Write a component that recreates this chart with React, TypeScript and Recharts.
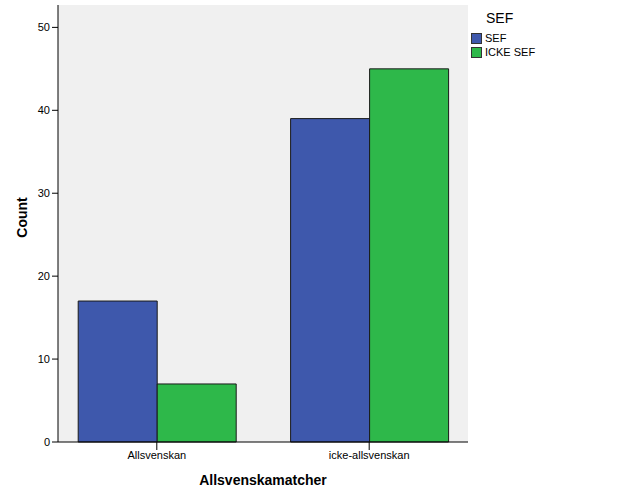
import React from 'react';
import { BarChart, Bar, XAxis, YAxis, CartesianGrid, Label } from 'recharts';

const categories = ['Allsvenskan', 'icke-allsvenskan'];
const sefValues = [17, 39];
const ickeSefValues = [7, 45];
const yTicks = [0, 10, 20, 30, 40, 50];
const seriesNames = ['SEF', 'ICKE SEF'];
const seriesColors = ['#3E58AC', '#2EB84A'];
const legendTitle = 'SEF';
const xTitle = 'Allsvenskamatcher';
const yTitle = 'Count';

const data = categories.map((c, i) => ({ cat: c, sef: sefValues[i], icke: ickeSefValues[i] }));

const FONT = '"Liberation Sans", Arial, sans-serif';

export default function App() {
  return (
    <div style={{ position: 'absolute', left: 0, top: 0, width: 626, height: 501, background: '#fff', fontFamily: FONT }}>
      <BarChart
        width={626}
        height={501}
        data={data}
        margin={{ top: 5, right: 158, bottom: 0, left: 0 }}
        barGap={0}
        barCategoryGap={27.6}
      >
        <CartesianGrid fill="#F0F0F0" horizontal={false} vertical={false} />
        <XAxis
          dataKey="cat"
          xAxisId="main"
          height={59}
          padding={{ left: -7.4, right: -7.4 }}
          tickSize={8}
          tickMargin={1}
          axisLine={{ stroke: '#000' }}
          tickLine={{ stroke: '#000' }}
          tick={{ fill: '#000', fontSize: 11, fontFamily: FONT }}
        >
          <Label value={xTitle} position="insideBottom" offset={16} style={{ fontWeight: 'bold', fontSize: 14, fill: '#000', fontFamily: FONT }} />
        </XAxis>
        <XAxis dataKey="cat" xAxisId="top" orientation="top" height={0} tick={false} tickLine={false} axisLine={{ stroke: '#808080' }} />
        <YAxis
          yAxisId="main"
          width={58}
          domain={[0, 52.7]}
          ticks={yTicks}
          tickSize={6}
          tickMargin={2}
          axisLine={{ stroke: '#000' }}
          tickLine={{ stroke: '#000' }}
          tick={{ fill: '#000', fontSize: 11, fontFamily: FONT }}
        >
          <Label
            value={yTitle}
            angle={-90}
            position="insideLeft"
            offset={22}
            dy={-6}
            style={{ fontWeight: 'bold', fontSize: 14, fill: '#000', fontFamily: FONT, textAnchor: 'middle' }}
          />
        </YAxis>
        <YAxis yAxisId="right" orientation="right" width={0} tick={false} tickLine={false} axisLine={{ stroke: '#808080' }} domain={[0, 52.7]} />
        <Bar dataKey="sef" name={seriesNames[0]} xAxisId="main" yAxisId="main" fill={seriesColors[0]} stroke="#1a1a1a" strokeWidth={1} isAnimationActive={false} />
        <Bar dataKey="icke" name={seriesNames[1]} xAxisId="main" yAxisId="main" fill={seriesColors[1]} stroke="#1a1a1a" strokeWidth={1} isAnimationActive={false} />
      </BarChart>
      <div style={{ position: 'absolute', left: 486, top: 9, fontSize: 14, color: '#000', lineHeight: '18px' }}>{legendTitle}</div>
      {seriesNames.map((n, i) => (
        <div key={n} style={{ position: 'absolute', left: 471, top: 33 + i * 14, display: 'flex', alignItems: 'center', height: 11 }}>
          <div style={{ width: 9, height: 9, background: seriesColors[i], border: '1px solid #333' }} />
          <span style={{ marginLeft: 3, fontSize: 11, color: '#000', lineHeight: '11px' }}>{n}</span>
        </div>
      ))}
    </div>
  );
}
